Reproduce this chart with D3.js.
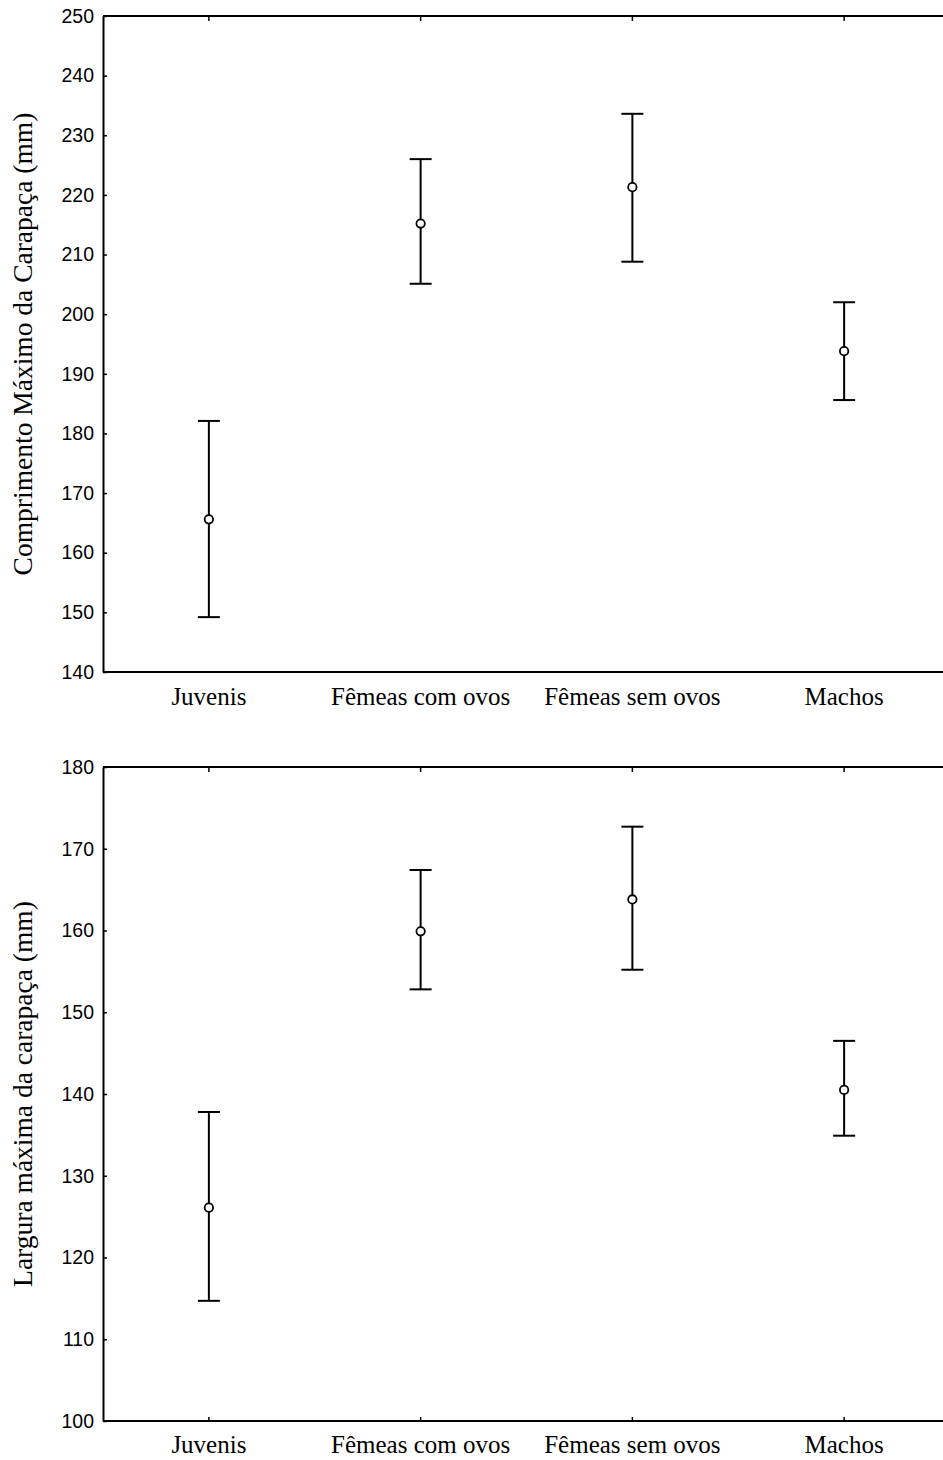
<!DOCTYPE html>
<html><head><meta charset="utf-8">
<script src="https://cdn.jsdelivr.net/npm/d3@7"></script>
<style>body{margin:0;background:#fff}</style>
</head><body>
<script>
const categories = ["Juvenis", "Fêmeas com ovos", "Fêmeas sem ovos", "Machos"];

// Top panel: Comprimento máximo da carapaça (mm)
const compMean  = [165.6, 215.2, 221.3, 193.8];
const compLower = [149.2, 205.1, 208.8, 185.6];
const compUpper = [182.1, 226.0, 233.6, 202.0];
const compTicks = [140, 150, 160, 170, 180, 190, 200, 210, 220, 230, 240, 250];

// Bottom panel: Largura máxima da carapaça (mm)
const largMean  = [126.1, 159.9, 163.8, 140.5];
const largLower = [114.7, 152.8, 155.2, 134.9];
const largUpper = [137.8, 167.4, 172.7, 146.5];
const largTicks = [100, 110, 120, 130, 140, 150, 160, 170, 180];

const W = 943, H = 1460;
const svg = d3.select("body").append("svg").attr("width", W).attr("height", H);

const x = d3.scaleBand().domain(categories).range([103, 950]);

function panel(opts) {
  const g = svg.append("g");
  const y = d3.scaleLinear().domain(opts.domain).range([opts.bottom, opts.top]);
  const left = 103;

  // left axis
  const ay = g.append("g").attr("transform", `translate(${left},0)`)
    .call(d3.axisLeft(y).tickValues(opts.ticks).tickSizeInner(-4).tickSizeOuter(0).tickPadding(9).tickFormat(d3.format("d")));
  ay.select(".domain").attr("stroke", "#000").attr("stroke-width", 2);
  ay.selectAll(".tick line").attr("stroke", "#000").attr("stroke-width", 1.5);
  ay.selectAll(".tick text").attr("font-family", "Liberation Sans, Arial, sans-serif").attr("font-size", 19.5).attr("fill", "#000");

  // top axis
  const at = g.append("g").attr("transform", `translate(0,${opts.top})`)
    .call(d3.axisTop(x).tickSizeInner(-5).tickSizeOuter(0).tickFormat(""));
  at.select(".domain").attr("stroke", "#000").attr("stroke-width", 2).attr("d", `M${left},0H${W+10}`);
  at.selectAll(".tick line").attr("stroke", "#000").attr("stroke-width", 1.5);

  // bottom axis
  const ab = g.append("g").attr("transform", `translate(0,${opts.bottom})`)
    .call(d3.axisBottom(x).tickSizeInner(opts.bottomTicks ? -4 : 0).tickSizeOuter(0));
  ab.select(".domain").attr("stroke", "#000").attr("stroke-width", 2).attr("d", `M${left},0H${W+10}`);
  ab.selectAll(".tick line").attr("stroke", "#000").attr("stroke-width", 1.5);
  ab.selectAll(".tick text").attr("font-family", "Liberation Serif, Times New Roman, serif").attr("font-size", 25).attr("fill", "#000")
    .attr("dy", null).attr("y", opts.labelOffset);

  // title
  g.append("text")
    .attr("transform", `translate(32,${(opts.top + opts.bottom) / 2}) rotate(-90)`)
    .attr("text-anchor", "middle")
    .attr("font-family", "Liberation Serif, Times New Roman, serif")
    .attr("font-size", 27.5)
    .attr("fill", "#000")
    .text(opts.title);

  const data = categories.map((c, i) => ({c, m: opts.mean[i], lo: opts.lower[i], hi: opts.upper[i]}));
  const cx = d => x(d.c) + x.bandwidth() / 2;
  const pts = g.append("g");
  pts.selectAll("line.v").data(data).join("line")
    .attr("x1", cx).attr("x2", cx).attr("y1", d => y(d.lo)).attr("y2", d => y(d.hi))
    .attr("stroke", "#000").attr("stroke-width", 2);
  pts.selectAll("line.hi").data(data).join("line")
    .attr("x1", d => cx(d) - 11).attr("x2", d => cx(d) + 11).attr("y1", d => y(d.hi)).attr("y2", d => y(d.hi))
    .attr("stroke", "#000").attr("stroke-width", 2);
  pts.selectAll("line.lo").data(data).join("line")
    .attr("x1", d => cx(d) - 11).attr("x2", d => cx(d) + 11).attr("y1", d => y(d.lo)).attr("y2", d => y(d.lo))
    .attr("stroke", "#000").attr("stroke-width", 2);
  pts.selectAll("circle").data(data).join("circle")
    .attr("cx", cx).attr("cy", d => y(d.m)).attr("r", 4.2)
    .attr("fill", "#fff").attr("stroke", "#000").attr("stroke-width", 1.8);
}

panel({domain: [140, 250], top: 16, bottom: 672, ticks: compTicks,
  mean: compMean, lower: compLower, upper: compUpper, bottomTicks: false, labelOffset: 33,
  title: "Comprimento Máximo da Carapaça (mm)"});
panel({domain: [100, 180], top: 767, bottom: 1421, ticks: largTicks,
  mean: largMean, lower: largLower, upper: largUpper, bottomTicks: true, labelOffset: 32,
  title: "Largura máxima da carapaça (mm)"});
</script>
</body></html>
